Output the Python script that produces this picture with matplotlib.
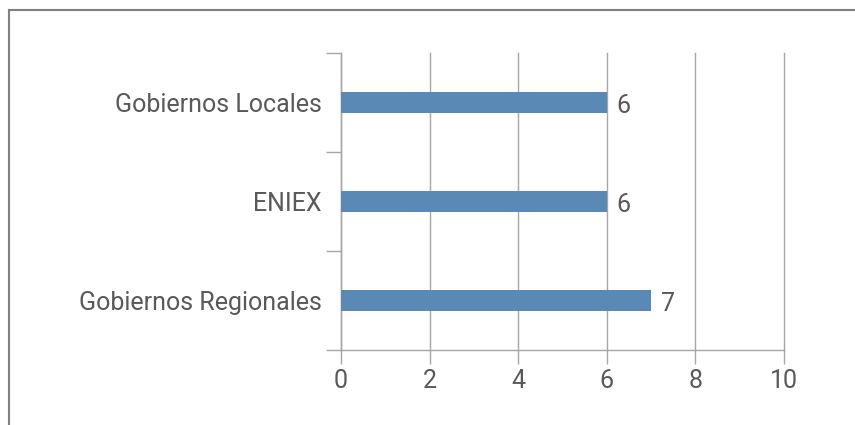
import matplotlib
matplotlib.use("Agg")
import matplotlib.pyplot as plt
from matplotlib.lines import Line2D

categories = ["Gobiernos Regionales", "ENIEX", "Gobiernos Locales"]
values = [7, 6, 6]
xticks = [0, 2, 4, 6, 8, 10]

plt.rcParams['font.family'] = ['Roboto', 'DejaVu Sans']
text_color = '#595959'
axis_color = '#a6a6a6'
bar_color = '#5b89b6'
fs = 18

W, H = 855, 425
fig = plt.figure(figsize=(W / 100, H / 100), dpi=100)
ax = fig.add_axes([341 / W, 1 - 350 / H, (784 - 341) / W, (350 - 53) / H])

pos = list(range(len(categories)))
ax.barh(pos, values, height=0.22, color=bar_color, zorder=3)
for p, v in zip(pos, values):
    ax.text(v + 0.22, p - 0.04, f"{v}", va='center', ha='left', fontsize=fs,
            color=text_color)

ax.set_xlim(0, 10)
ax.set_ylim(-0.5, len(categories) - 0.5)
ax.set_xticks(xticks)
ax.set_xticklabels([str(t) for t in xticks], fontsize=fs, color=text_color)
ax.set_yticks(pos)
ax.set_yticklabels(categories, fontsize=fs, color=text_color)
ax.set_yticks([-0.5 + i for i in range(len(categories) + 1)], minor=True)
ax.tick_params(axis='y', which='major', length=0, pad=14)
ax.tick_params(axis='y', which='minor', length=11, color=axis_color, width=1)
ax.tick_params(axis='x', length=10, color=axis_color, width=1, pad=4)
ax.grid(axis='x', color=axis_color, linewidth=1, zorder=0)
for gl in ax.get_xgridlines():
    gl.set_clip_on(False)
for s in ['top', 'right']:
    ax.spines[s].set_visible(False)
for s in ['left', 'bottom']:
    ax.spines[s].set_color(axis_color)
    ax.spines[s].set_linewidth(1)

# outer frame (top and left)
fig.add_artist(Line2D([9 / W, 1.0], [1 - 10 / H, 1 - 10 / H],
                      transform=fig.transFigure, color='#808080', linewidth=1.5))
fig.add_artist(Line2D([9 / W, 9 / W], [0, 1 - 10 / H],
                      transform=fig.transFigure, color='#808080', linewidth=1.5))

fig.savefig("out.png", dpi=100)
